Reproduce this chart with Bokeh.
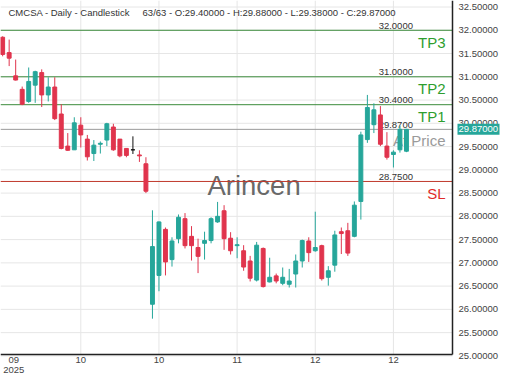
from bokeh.plotting import figure
from bokeh.models import Range1d
from bokeh.core.properties import value
from bokeh.embed import file_html
from bokeh.resources import INLINE

# ---------------- data ----------------
opens = [31.85, 31.52, 31.02, 30.73, 30.47, 30.82, 31.09, 30.61, 30.78, 30.20,
         29.51, 29.43, 29.96, 29.66, 29.35, 29.55, 29.64, 29.92, 29.66, 29.46,
         29.43, 29.32, 29.13, 26.11, 26.73, 27.72, 27.07, 27.52, 27.95, 27.57,
         27.33, 27.42, 27.48, 27.88, 28.12, 27.53, 27.37, 27.26, 27.04, 26.63,
         27.31, 26.59, 26.72, 26.56, 26.54, 26.76, 27.04, 27.47, 27.26, 27.37,
         26.69, 26.95, 27.67, 27.69, 27.57, 28.32, 29.65, 29.97, 30.18, 29.51,
         29.33, 29.43, 29.40]
highs = [31.87, 31.80, 31.37, 30.79, 31.20, 31.13, 31.16, 30.99, 30.99, 30.41,
         29.79, 30.13, 30.13, 29.75, 29.64, 29.61, 30.01, 29.99, 29.66, 29.46,
         29.72, 29.42, 29.27, 28.13, 27.89, 27.76, 27.55, 28.04, 28.07, 27.79,
         27.52, 27.67, 27.98, 28.31, 28.24, 27.66, 27.55, 27.38, 27.15, 27.45,
         27.33, 27.11, 26.77, 26.90, 26.87, 27.18, 27.50, 27.55, 28.10, 27.39,
         26.93, 27.69, 27.76, 27.86, 28.32, 29.82, 30.61, 30.43, 30.37, 29.81,
         29.42, 29.95, 29.88]
lows = [31.44, 31.23, 30.92, 30.39, 30.44, 30.44, 30.35, 30.47, 30.07, 29.44,
        29.41, 29.43, 29.48, 29.20, 29.19, 29.35, 29.51, 29.41, 29.27, 29.27,
        29.34, 29.17, 28.50, 25.80, 26.39, 26.73, 26.92, 27.42, 27.31, 27.05,
        26.78, 27.07, 27.42, 27.86, 27.28, 27.18, 27.10, 26.83, 26.60, 26.60,
        26.47, 26.58, 26.56, 26.52, 26.47, 26.47, 26.90, 27.02, 27.24, 26.62,
        26.51, 26.81, 27.19, 27.15, 27.55, 27.93, 29.58, 29.79, 29.51, 29.22,
        29.05, 29.37, 29.38]
closes = [31.48, 31.40, 30.93, 30.41, 30.90, 31.11, 30.61, 30.78, 30.10, 29.46,
          29.42, 30.01, 29.75, 29.28, 29.53, 29.57, 29.99, 29.43, 29.30, 29.31,
          29.43, 29.30, 28.54, 27.35, 27.88, 27.02, 27.47, 27.98, 27.37, 27.37,
          27.14, 27.48, 27.95, 28.00, 27.52, 27.26, 27.39, 26.91, 26.67, 27.38,
          26.49, 26.69, 26.61, 26.69, 26.61, 27.04, 27.48, 27.22, 27.33, 26.66,
          26.83, 27.60, 27.63, 27.21, 28.24, 29.75, 30.34, 30.29, 29.55, 29.27,
          29.38, 29.87, 29.87]

x_tick_positions = [1.7, 12, 24, 36, 48, 60]
x_tick_labels = ["09", "10", "10", "11", "12", "12"]
year_label = "2025"
x_grid_positions = [12, 24, 36, 48, 60]
y_ticks = [25.0, 25.5, 26.0, 26.5, 27.0, 27.5, 28.0, 28.5, 29.0, 29.5,
           30.0, 30.5, 31.0, 31.5, 32.0, 32.5]

level_values = [32.0, 31.0, 30.4, 29.87, 28.75]
level_colors = ["#3c8c3c", "#3c8c3c", "#3c8c3c", "#9a9a9a", "#c0392b"]
tag_names = ["TP3", "TP2", "TP1", "SL"]
tag_colors = ["#2e9e2e", "#2e9e2e", "#2e9e2e", "#e02a2a"]
tag_y = [31.74, 30.74, 30.15, 28.49]

title_text = ("CMCSA - Daily - Candlestick\u00a0\u00a0\u00a0\u00a0 63/63 - O:29.40000 - "
              "H:29.88000 - L:29.38000 - C:29.87000")
last_price = closes[-1]

GREEN = "#26a69a"
RED = "#e0344d"
FONT = "Liberation Sans"

# ---------------- geometry ----------------
W, H = 504, 374
AXIS_PX = 452          # x pixel of the price axis line
AXIS_PY = 354          # y pixel (from top) of the time axis line
X0, XA = -0.33, 69.07  # first visible index, index at price axis
YA, Y1 = 25.03, 32.64  # price at time axis, price at top
pxx = AXIS_PX / (XA - X0)
pxy = AXIS_PY / (Y1 - YA)
X2 = X0 + W / pxx
Y0 = YA - (H - AXIS_PY) / pxy

p = figure(width=W, height=H, output_backend="svg", toolbar_location=None,
           x_range=Range1d(X0, X2), y_range=Range1d(Y0, Y1),
           x_axis_location=None, y_axis_location=None,
           min_border_left=0, min_border_top=0, min_border_right=0, min_border_bottom=0)
p.outline_line_color = None
p.grid.visible = False
p.background_fill_color = "white"

GRID = "#e6e6e6"
# grid lines
p.segment(x0=[X0] * len(y_ticks), y0=y_ticks, x1=[XA] * len(y_ticks), y1=y_ticks,
          line_color=GRID, line_width=1)
p.segment(x0=x_grid_positions, y0=[YA] * len(x_grid_positions),
          x1=x_grid_positions, y1=[Y1] * len(x_grid_positions),
          line_color=GRID, line_width=1)

# title inside the frame
p.text(x=[X0 + 8 / pxx], y=[Y1 - 11.5 / pxy], text=[title_text], text_font=value(FONT),
       text_font_size="9.5px", text_color="#333333", text_baseline="middle", text_align="left")

# "At Price" (under the candles)
p.text(x=[XA - 7 / pxx], y=[29.63], text=["At Price"], text_font=value(FONT),
       text_font_size="15px", text_color="#9a9a9a", text_baseline="middle", text_align="right")

# watermark
p.text(x=[38.6], y=[28.66], text=["Arincen"], text_font=value(FONT),
       text_font_size="27.5px", text_color="#555555", text_alpha=0.9,
       text_baseline="middle", text_align="center")

# level lines + labels
p.segment(x0=[X0] * len(level_values), y0=level_values, x1=[XA] * len(level_values),
          y1=level_values, line_color=level_colors, line_width=1)
p.text(x=[63.0] * len(level_values), y=[v + 1.5 / pxy for v in level_values],
       text=[f"{v:.4f}" for v in level_values], text_font=value(FONT),
       text_font_size="9.5px", text_color="#333333", text_baseline="bottom", text_align="right")

# TP / SL tags
p.text(x=[XA - 7 / pxx] * len(tag_names), y=tag_y, text=tag_names, text_font=value(FONT),
       text_font_size="15px", text_color=tag_colors, text_baseline="middle", text_align="right")

# candles
idx = list(range(len(opens)))
cols = [GREEN if c > o else (RED if c < o else "#111111") for o, c in zip(opens, closes)]
src = dict(x=idx, l=lows, h=highs,
           top=[max(o, c) for o, c in zip(opens, closes)],
           bot=[min(o, c) for o, c in zip(opens, closes)],
           col=cols)
p.segment(x0="x", y0="l", x1="x", y1="h", line_color="col", line_width=1, source=src)
p.vbar(x="x", width=0.6, top="top", bottom="bot", fill_color="col", line_color="col",
       line_width=1, source=src)

# axes lines
p.segment(x0=[X0], y0=[YA], x1=[XA], y1=[YA], line_color="#222222", line_width=1.5)
p.segment(x0=[XA], y0=[YA], x1=[XA], y1=[Y1], line_color="#222222", line_width=1.5)

# price-axis labels
p.text(x=[XA + 6 / pxx] * len(y_ticks), y=y_ticks, text=[f"{t:.5f}" for t in y_ticks],
       text_font=value(FONT), text_font_size="9.5px", text_color="#444444",
       text_baseline="middle", text_align="left")

# time-axis labels
p.text(x=x_tick_positions, y=[YA - 2 / pxy] * len(x_tick_positions), text=x_tick_labels,
       text_font=value(FONT), text_font_size="9.5px", text_color="#444444",
       text_baseline="top", text_align="center")
p.text(x=[x_tick_positions[0]], y=[YA - 12 / pxy], text=[year_label],
       text_font=value(FONT), text_font_size="9.5px", text_color="#444444",
       text_baseline="top", text_align="center")

# last price tag on the axis
p.rect(x=[XA + (5 + 21) / pxx], y=[last_price], width=42, height=11,
       width_units="screen", height_units="screen", fill_color=GREEN, line_color=None)
p.text(x=[XA + 6 / pxx], y=[last_price], text=[f"{last_price:.5f}"],
       text_font=value(FONT), text_font_size="9.5px", text_color="white",
       text_baseline="middle", text_align="left")

open("out.html", "w").write(file_html(p, INLINE))
